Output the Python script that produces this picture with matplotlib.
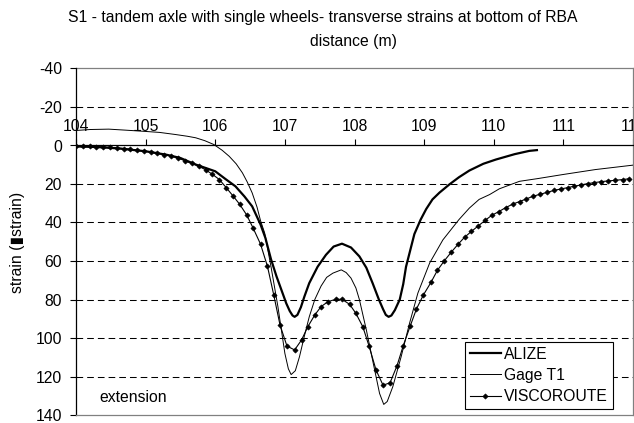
import matplotlib
matplotlib.use("Agg")
import matplotlib.pyplot as plt

plt.rcParams['font.family'] = ['Liberation Sans', 'DejaVu Sans']
plt.rcParams['lines.scale_dashes'] = False
plt.rcParams['axes.unicode_minus'] = False

# ALIZE (calculated, thick line)
alize_x = [104.0, 104.3, 104.6, 105.0, 105.3, 105.5, 105.72, 106.0, 106.15, 106.29,
           106.42, 106.53, 106.65, 106.72, 106.8, 106.88, 106.95, 107.02, 107.07, 107.11,
           107.14, 107.18, 107.23, 107.28, 107.35, 107.47, 107.59, 107.7, 107.82, 107.95,
           108.07, 108.17, 108.26, 108.35, 108.41, 108.45, 108.49, 108.53, 108.58, 108.65,
           108.7, 108.74, 108.86, 108.95, 109.03, 109.12, 109.22, 109.36, 109.5, 109.65,
           109.85, 110.03, 110.3, 110.51, 110.62]
alize_y = [0.5, 0.8, 1.5, 3.0, 4.8, 6.5, 9.9, 13.4, 17.5, 21.2,
           26.5, 31.6, 41.0, 48.0, 59.0, 68.0, 75.0, 82.0, 86.0, 88.3,
           89.0, 88.0, 84.0, 78.5, 71.5, 63.0, 56.8, 52.5, 51.0, 53.0,
           57.6, 63.5, 71.5, 80.0, 85.0, 88.0, 89.0, 88.3, 85.5, 80.0,
           72.0, 63.0, 46.0, 38.5, 33.0, 28.0, 24.5, 20.3, 16.5, 13.0,
           9.5, 7.3, 4.5, 2.8, 2.4]

# Gage T1 (measured, thin line)
gage_x = [104.0, 104.2, 104.47, 104.7, 104.96, 105.2, 105.43, 105.6, 105.72, 105.85,
          105.98, 106.1, 106.2, 106.3, 106.39, 106.46, 106.53, 106.6, 106.65, 106.71,
          106.8, 106.9, 107.0, 107.05, 107.09, 107.15, 107.21, 107.28, 107.35, 107.43,
          107.52, 107.6, 107.69, 107.81, 107.88, 107.95, 108.02, 108.07, 108.17, 108.26,
          108.36, 108.42, 108.47, 108.55, 108.67, 108.79, 108.91, 109.08, 109.27, 109.5,
          109.65, 109.79, 109.94, 110.08, 110.37, 110.63, 110.99, 111.46, 112.0]
gage_y = [-7.8, -8.3, -8.5, -8.0, -7.4, -6.8, -5.7, -4.8, -4.0, -2.5,
          -0.5, 2.5, 5.6, 9.5, 14.2, 19.0, 24.6, 32.0, 39.0, 45.5,
          62.8, 83.7, 108.0, 116.0, 119.0, 117.0, 109.7, 99.0, 89.0, 80.0,
          73.0, 68.5, 66.3, 64.6, 66.0, 68.9, 74.0, 80.0, 95.8, 111.5,
          128.8, 134.5, 133.0, 125.3, 109.7, 92.4, 76.7, 61.0, 49.0, 38.5,
          32.5, 28.0, 25.5, 22.5, 18.6, 17.2, 15.1, 12.5, 10.2]

# VISCOROUTE (calculated, line with diamond markers)
visco_x = [104.0, 104.1, 104.2, 104.29, 104.39, 104.49, 104.59, 104.69, 104.78, 104.88,
           104.98, 105.08, 105.17, 105.27, 105.37, 105.47, 105.57, 105.66, 105.76, 105.86,
           105.96, 106.06, 106.16, 106.26, 106.35, 106.45, 106.54, 106.65, 106.75, 106.84,
           106.93, 107.03, 107.14, 107.24, 107.33, 107.43, 107.52, 107.62, 107.73, 107.82,
           107.93, 108.02, 108.12, 108.21, 108.31, 108.41, 108.51, 108.61, 108.7, 108.8,
           108.89, 108.99, 109.1, 109.19, 109.29, 109.39, 109.49, 109.58, 109.68, 109.78,
           109.88, 109.97, 110.07, 110.17, 110.27, 110.37, 110.46, 110.56, 110.66, 110.77,
           110.87, 110.96, 111.06, 111.15, 111.25, 111.35, 111.44, 111.54, 111.64, 111.74,
           111.85, 111.94]
visco_y = [0.3, 0.4, 0.5, 0.6, 0.8, 1.0, 1.3, 1.6, 2.0, 2.4,
           2.9, 3.4, 4.0, 4.7, 5.5, 6.6, 8.0, 9.3, 10.7, 12.6,
           15.0, 17.7, 22.0, 26.4, 30.5, 36.0, 42.6, 51.2, 62.8, 77.6,
           93.2, 104.2, 106.2, 101.0, 94.1, 88.0, 83.7, 81.1, 79.9, 79.9,
           82.5, 87.2, 94.2, 104.3, 116.7, 124.5, 123.3, 114.5, 104.0, 93.8,
           84.9, 77.6, 71.0, 64.9, 59.9, 55.4, 51.2, 47.7, 44.6, 41.7,
           38.8, 36.3, 34.4, 32.3, 30.5, 29.1, 27.9, 26.4, 25.4, 24.3,
           23.3, 22.6, 21.9, 21.2, 20.5, 19.8, 19.3, 18.8, 18.4, 18.1,
           17.7, 17.3]

grid_levels = [-20, 20, 40, 60, 80, 100, 120]
y_ticks = [-40, -20, 0, 20, 40, 60, 80, 100, 120, 140]
x_ticks = [104, 105, 106, 107, 108, 109, 110, 111, 112]

FS = 11.3
W, H = 634, 423
fig = plt.figure(figsize=(W / 100, H / 100), dpi=100)
ax = fig.add_axes([76 / W, 8 / H, 557 / W, 346.5 / H])

for g in grid_levels:
    ax.axhline(g, color='black', lw=0.75, ls=(0, (4.8, 2.9)), zorder=1)
ax.axhline(-40, color='#808080', lw=0.9, clip_on=False, zorder=1)

ax.plot(alize_x, alize_y, color='black', lw=1.6, label='ALIZE', zorder=3)
ax.plot(gage_x, gage_y, color='black', lw=0.7, label='Gage T1', zorder=3)
ax.plot(visco_x, visco_y, color='black', lw=0.8, marker='D', markersize=2.7,
        markeredgewidth=0.4, label='VISCOROUTE', zorder=4)

ax.set_xlim(104, 112)
ax.set_ylim(140, -40)
ax.set_xticks(x_ticks)
ax.set_yticks(y_ticks)

ax.xaxis.set_ticks_position('top')
ax.spines['top'].set_position(('data', 0))
ax.spines['top'].set_color('black')
ax.spines['top'].set_linewidth(0.9)
ax.spines['left'].set_color('black')
ax.spines['left'].set_linewidth(0.9)
for s in ['right', 'bottom']:
    ax.spines[s].set_color('#808080')
    ax.spines[s].set_linewidth(0.9)

ax.tick_params(axis='x', direction='out', length=4, width=0.8, pad=4.5, labelsize=FS)
ax.tick_params(axis='y', direction='out', length=4, width=0.8, pad=6, labelsize=FS)

ax.text(104.33, 130.7, 'extension', fontsize=FS, va='center', ha='left')

fig.text(323 / W, 1 - 17.3 / H, 'S1 - tandem axle with single wheels- transverse strains at bottom of RBA',
         ha='center', va='center', fontsize=FS)
fig.text(353 / W, 1 - 41.7 / H, 'distance (m)', ha='center', va='center', fontsize=FS)
fig.text(18 / W, 1 - 242 / H, 'strain (\u25aestrain)', rotation=90, ha='center', va='center',
         fontsize=FS)

leg = ax.legend(loc='upper left', bbox_to_anchor=(465 / W, 1 - 342 / H),
                bbox_transform=fig.transFigure, fontsize=FS, frameon=True,
                fancybox=False, edgecolor='black', framealpha=1,
                borderpad=0.3, labelspacing=0.4, handlelength=2.0,
                handletextpad=0.2, borderaxespad=0)
leg.get_frame().set_linewidth(0.8)
leg.set_zorder(5)

fig.savefig('out.png', dpi=100)
